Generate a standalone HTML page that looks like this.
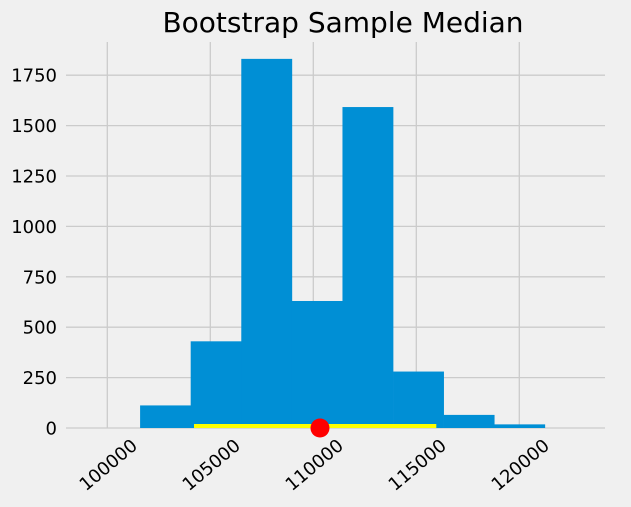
<!DOCTYPE html>
<html><head><meta charset="utf-8"><style>
body{margin:0;background:#f0f0f0;}
svg text{font-family:"DejaVu Sans","Liberation Sans",sans-serif;fill:#000;}
</style></head><body>
<svg id="chart" width="631" height="502" xmlns="http://www.w3.org/2000/svg">
<rect width="631" height="502" fill="#f0f0f0"/>
<text x="343" y="32" font-size="28" text-anchor="middle">Bootstrap Sample Median</text>
<g id="grid"></g><g id="bars"></g><g id="overlay"></g><g id="labels"></g>
</svg>
<script>
const binStart = 101592;
const binWidth = 2456;
const counts = [112, 430, 1831, 630, 1592, 280, 65, 18];
const xTicks = [100000, 105000, 110000, 115000, 120000];
const yTicks = [0, 250, 500, 750, 1000, 1250, 1500, 1750];
const intervalLow = 104209, intervalHigh = 115971;
const observedMedian = 110325;

const NS = "http://www.w3.org/2000/svg";
const xs = v => 107.3 + (v - 100000) * 0.0206;
const ys = v => 428 - v * 0.2016;
function mk(tag, attrs, parent){const e=document.createElementNS(NS,tag);for(const k in attrs)e.setAttribute(k,attrs[k]);document.getElementById(parent).appendChild(e);return e;}

yTicks.forEach(t=>{
  const l=mk('line',{x1:66,x2:605,y1:ys(t),y2:ys(t),stroke:'#cbcbcb','stroke-width':1.3},'grid');
  
  
  const tx=mk('text',{x:57,y:ys(t)+6.5,'font-size':18,'text-anchor':'end'},'labels');
  tx.textContent=t;
  
  
});
xTicks.forEach(t=>{
  const l=mk('line',{x1:xs(t),x2:xs(t),y1:42,y2:428,stroke:'#cbcbcb','stroke-width':1.3},'grid');
  
  
  const x=xs(t)+1,y=465;
  const tx=mk('text',{x:x,y:y+6,'font-size':18,'text-anchor':'middle',transform:`rotate(-40 ${x} ${y})`},'labels');
  tx.textContent=t;
  
  
});
counts.forEach((c,i)=>{
  const x0=xs(binStart+i*binWidth),x1=xs(binStart+(i+1)*binWidth);
  const r=mk('rect',{x:x0,y:ys(c),width:x1-x0+0.3,height:ys(0)-ys(c),fill:'#008fd5'},'bars');
  
  
});
const ln=mk('rect',{x:xs(intervalLow),width:xs(intervalHigh)-xs(intervalLow),y:ys(0)-4,height:4,fill:'#ffff00'},'overlay');


const dot=mk('circle',{cx:xs(observedMedian),cy:ys(0),r:9.5,fill:'#ff0000'},'overlay');


</script>
</body></html>
